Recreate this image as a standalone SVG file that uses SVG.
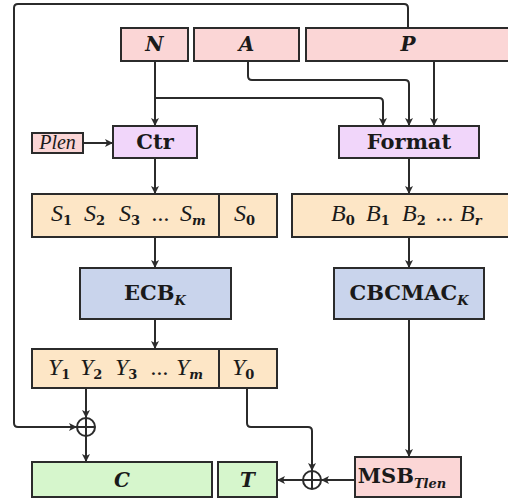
<svg xmlns="http://www.w3.org/2000/svg" width="508" height="504" viewBox="0 0 508 504">
<defs>
<marker id="ah" markerWidth="10" markerHeight="10" refX="9" refY="5" orient="auto" markerUnits="userSpaceOnUse">
<path d="M1,1 L9,5 L1,9 L3,5 z" fill="#2b2b2b"/>
</marker>
<style>
.box{stroke:#2b2b2b;stroke-width:2}
.pink{fill:#fbd6d6}
.purple{fill:#f1d6fa}
.orange{fill:#fde6c6}
.blue{fill:#c9d4ec}
.green{fill:#d6f6cc}
.c{fill:none;stroke:#2b2b2b;stroke-width:2}
.a{marker-end:url(#ah)}
.t{font-family:"DejaVu Serif","Liberation Serif",serif;fill:#1a1a1a}
.bi{font-weight:bold;font-style:italic;font-size:20px}
.b{font-weight:bold;font-size:21px}
.i{font-family:"Liberation Serif","DejaVu Serif",serif;font-style:italic;font-size:24px;fill:#1a1a1a}
.sb{font-family:"DejaVu Serif",serif;font-style:normal;font-weight:bold;font-size:13px}
.si{font-family:"DejaVu Serif",serif;font-style:italic;font-weight:bold;font-size:13px}
</style>
</defs>

<g id="connectors">
<path class="c a" d="M408,28 V8 Q408,4 404,4 H18 Q14,4 14,8 V423 Q14,427 18,427 H77"/>
<path class="c a" d="M155,61 V126"/>
<path class="c a" d="M155,98 H379 Q383,98 383,102 V126"/>
<path class="c a" d="M248,61 V76 Q248,80 252,80 H405 Q409,80 409,84 V126"/>
<path class="c a" d="M434,61 V126"/>
<path class="c a" d="M83,143 H113"/>
<path class="c a" d="M155,158 V194"/>
<path class="c a" d="M409,158 V194"/>
<path class="c a" d="M155,237 V268"/>
<path class="c a" d="M409,237 V268"/>
<path class="c a" d="M155,319 V349"/>
<path class="c a" d="M86,388 V418"/>
<path class="c a" d="M86,436 V462"/>
<path class="c a" d="M247,388 V423 Q247,427 251,427 H308 Q312,427 312,431 V471"/>
<path class="c a" d="M409,319 V457"/>
<path class="c a" d="M355,480 H321"/>
<path class="c a" d="M303,480 H277"/>
</g>

<g id="N"><rect class="box pink" x="121" y="28" width="67" height="33"/><text class="t bi" x="154.5" y="51" text-anchor="middle">N</text></g>
<g id="A"><rect class="box pink" x="194" y="28" width="105" height="33"/><text class="t bi" x="246.5" y="51" text-anchor="middle">A</text></g>
<g id="P"><rect class="box pink" x="306" y="28" width="210" height="33"/><text class="t bi" x="408" y="51" text-anchor="middle">P</text></g>

<g id="Plen"><rect class="box pink" x="32" y="133" width="51" height="20"/><text class="i" x="57.5" y="149" text-anchor="middle" style="font-size:20px">Plen</text></g>
<g id="Ctr"><rect class="box purple" x="113" y="126" width="84" height="32"/><text class="t b" x="155" y="149" text-anchor="middle">Ctr</text></g>
<g id="Format"><rect class="box purple" x="339" y="126" width="140" height="32"/><text class="t b" x="409" y="149" text-anchor="middle">Format</text></g>

<g id="S"><rect class="box orange" x="32" y="194" width="187" height="43"/><rect class="box orange" x="219" y="194" width="58" height="43"/>
<text class="i" y="221"><tspan x="51">S</tspan><tspan class="sb" dy="4">1</tspan><tspan x="84" dy="-4">S</tspan><tspan class="sb" dy="4">2</tspan><tspan x="119" dy="-4">S</tspan><tspan class="sb" dy="4">3</tspan><tspan x="152" dy="-4">...</tspan><tspan x="180">S</tspan><tspan class="si" dy="4">m</tspan><tspan x="234" dy="-4">S</tspan><tspan class="sb" dy="4">0</tspan></text></g>

<g id="B"><rect class="box orange" x="292" y="194" width="230" height="43"/>
<text class="i" y="221"><tspan x="331">B</tspan><tspan class="sb" dy="4">0</tspan><tspan x="366" dy="-4">B</tspan><tspan class="sb" dy="4">1</tspan><tspan x="402" dy="-4">B</tspan><tspan class="sb" dy="4">2</tspan><tspan x="436" dy="-4">...</tspan><tspan x="460">B</tspan><tspan class="si" dy="4">r</tspan></text></g>

<g id="ECB"><rect class="box blue" x="80" y="268" width="151" height="51"/><text class="t b" x="155" y="300" text-anchor="middle">ECB<tspan class="si" dy="5">K</tspan></text></g>
<g id="CBCMAC"><rect class="box blue" x="334" y="268" width="150" height="51"/><text class="t b" x="409" y="300" text-anchor="middle">CBCMAC<tspan class="si" dy="5">K</tspan></text></g>

<g id="Y"><rect class="box orange" x="32" y="349" width="187" height="39"/><rect class="box orange" x="219" y="349" width="58" height="39"/>
<text class="i" y="375"><tspan x="48">Y</tspan><tspan class="sb" dy="4">1</tspan><tspan x="80" dy="-4">Y</tspan><tspan class="sb" dy="4">2</tspan><tspan x="115" dy="-4">Y</tspan><tspan class="sb" dy="4">3</tspan><tspan x="151" dy="-4">...</tspan><tspan x="176">Y</tspan><tspan class="si" dy="4">m</tspan><tspan x="232" dy="-4">Y</tspan><tspan class="sb" dy="4">0</tspan></text></g>

<g id="xor1"><circle cx="86" cy="427" r="9" fill="#fff" stroke="#2b2b2b" stroke-width="2"/><path d="M77,427 H95 M86,418 V436" stroke="#2b2b2b" stroke-width="2"/></g>
<g id="xor2"><circle cx="312" cy="480" r="9" fill="#fff" stroke="#2b2b2b" stroke-width="2"/><path d="M303,480 H321 M312,471 V489" stroke="#2b2b2b" stroke-width="2"/></g>

<g id="C"><rect class="box green" x="32" y="462" width="180" height="35"/><text class="t bi" x="122" y="487" text-anchor="middle">C</text></g>
<g id="T"><rect class="box green" x="218" y="462" width="59" height="35"/><text class="t bi" x="247.5" y="487" text-anchor="middle">T</text></g>
<g id="MSB"><rect class="box pink" x="355" y="457" width="106" height="40"/><text class="t b" x="402" y="483" text-anchor="middle">MSB<tspan class="si" dy="5">Tlen</tspan></text></g>
</svg>
